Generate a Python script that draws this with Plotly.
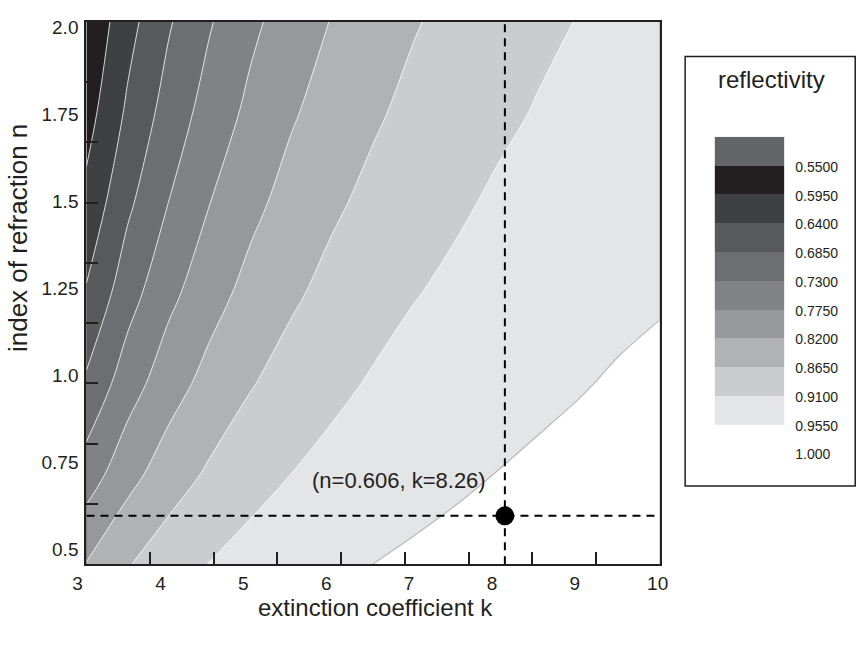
import plotly.graph_objects as go

W, H = 862, 645

# ---- data ----
k_grid = [3.0, 3.5, 4.0, 4.5, 5.0, 5.5, 6.0, 6.5, 7.0, 7.5, 8.0, 8.5, 9.0, 9.5, 10.0]
n_grid = [0.5, 0.75, 1.0, 1.25, 1.5, 1.75, 2.0]
reflectivity = [
    [0.822, 0.862, 0.890, 0.911, 0.927, 0.938, 0.948, 0.9551, 0.961, 0.966, 0.970, 0.973, 0.976, 0.978, 0.980],
    [0.751, 0.804, 0.843, 0.871, 0.893, 0.910, 0.923, 0.934, 0.942, 0.949, 0.9553, 0.960, 0.964, 0.968, 0.971],
    [0.692, 0.754, 0.800, 0.835, 0.862, 0.883, 0.900, 0.914, 0.925, 0.934, 0.941, 0.948, 0.953, 0.958, 0.962],
    [0.644, 0.711, 0.763, 0.802, 0.834, 0.858, 0.878, 0.894, 0.908, 0.918, 0.928, 0.935, 0.942, 0.948, 0.952],
    [0.607, 0.676, 0.730, 0.774, 0.808, 0.836, 0.858, 0.876, 0.891, 0.904, 0.915, 0.924, 0.931, 0.938, 0.944],
    [0.577, 0.647, 0.703, 0.748, 0.785, 0.815, 0.839, 0.859, 0.876, 0.890, 0.902, 0.912, 0.921, 0.928, 0.935],
    [0.556, 0.624, 0.680, 0.726, 0.765, 0.796, 0.822, 0.844, 0.862, 0.877, 0.890, 0.902, 0.911, 0.919, 0.927],
]
level_start, level_end, level_size = 0.55, 0.955, 0.045

band_colors = ["#636466", "#231f20", "#3f4042", "#58595b", "#6d6e71", "#808285",
               "#97989b", "#b1b2b4", "#cbcccd", "#e4e5e6", "#ffffff"]
legend_labels = ["0.5500", "0.5950", "0.6400", "0.6850", "0.7300", "0.7750",
                 "0.8200", "0.8650", "0.9100", "0.9550", "1.000"]
legend_blocks = list(range(10))

k_range = [3, 10]
n_range = [0.5, 2.0]
k_labels = [3, 4, 5, 6, 7, 8, 9, 10]
n_labels = [0.5, 0.75, 1.0, 1.25, 1.5, 1.75, 2.0]
n_label_text = ["0.5", "0.75", "1.0", "1.25", "1.5", "1.75", "2.0"]
k_tick_marks = [3.778, 4.556, 5.333, 6.111, 6.889, 7.667, 8.444, 9.222]
n_tick_marks = [0.667, 0.833, 1.0, 1.167, 1.333, 1.5, 1.667, 1.833]

point_k = [8.11]
point_n = [0.634]
point_label = "(n=0.606, k=8.26)"

FONT = "Liberation Sans, Arial, sans-serif"
TXT = "#231f20"

def px_x(p):
    return p / W

def px_y(p):
    return 1 - p / H

fig = go.Figure()

fig.add_trace(go.Contour(
    x=k_grid, y=n_grid, z=reflectivity,
    contours=dict(start=level_start, end=level_end, size=level_size, coloring="fill"),
    colorscale=[[i / 10, c] for i, c in enumerate(band_colors)],
    line=dict(color="white", width=0.8, smoothing=1.0),
    showscale=False, hoverinfo="skip",
))
fig.add_trace(go.Contour(
    x=k_grid, y=n_grid, z=reflectivity,
    contours=dict(start=level_end, end=level_end, size=level_size, coloring="none"),
    line=dict(color="#b8b8b8", width=1.2, smoothing=1.0),
    showscale=False, hoverinfo="skip",
))

# dashed guide lines and point
fig.add_trace(go.Scatter(x=k_range, y=[point_n[0]] * 2, mode="lines",
                         line=dict(color="black", width=2, dash="8px,6px"),
                         showlegend=False, hoverinfo="skip"))
fig.add_trace(go.Scatter(x=[point_k[0]] * 2, y=n_range, mode="lines",
                         line=dict(color="black", width=2, dash="8px,6px"),
                         showlegend=False, hoverinfo="skip"))
fig.add_trace(go.Scatter(x=point_k, y=point_n, mode="markers",
                         marker=dict(color="black", size=19),
                         showlegend=False, hoverinfo="skip"))

# label axes (dummy trace)
fig.add_trace(go.Scatter(x=[None], y=[None], xaxis="x3", yaxis="y3",
                         showlegend=False, hoverinfo="skip"))

# legend colour blocks
fig.add_trace(go.Heatmap(
    x=[0], y=legend_blocks, z=[[b] for b in legend_blocks],
    zmin=0, zmax=9,
    colorscale=[[j / 9, band_colors[j]] for j in range(10)],
    showscale=False, xaxis="x2", yaxis="y2", hoverinfo="skip",
))

frame_x = [px_x(83), px_x(667)]
frame_y = [px_y(573), px_y(12)]

fig.update_layout(
    width=W, height=H,
    margin=dict(l=0, r=0, t=0, b=0),
    paper_bgcolor="white", plot_bgcolor="rgba(0,0,0,0)",
    font=dict(family=FONT, color=TXT),
    showlegend=False,
    xaxis=dict(domain=frame_x, range=k_range, anchor="y",
               tickmode="array", tickvals=k_tick_marks, ticks="inside",
               ticklen=12, tickwidth=2, tickcolor=TXT,
               showticklabels=False, showline=True, linewidth=2,
               linecolor=TXT, mirror=True, showgrid=False, zeroline=False),
    yaxis=dict(domain=frame_y, range=n_range, anchor="x",
               tickmode="array", tickvals=n_tick_marks, ticks="inside",
               ticklen=12, tickwidth=2, tickcolor=TXT,
               showticklabels=False, showline=True, linewidth=2,
               linecolor=TXT, mirror=True, showgrid=False, zeroline=False),
    xaxis3=dict(domain=[px_x(74), px_x(665)], range=k_range, anchor="free",
                position=px_y(573), tickmode="array", tickvals=k_labels,
                ticktext=[str(v) for v in k_labels], ticks="",
                showline=False, showgrid=False, zeroline=False,
                tickfont=dict(size=19, family=FONT), ticklabelstandoff=6),
    yaxis3=dict(domain=[px_y(557), px_y(18)], range=n_range, anchor="free",
                position=px_x(83), tickmode="array", tickvals=n_labels,
                ticktext=n_label_text, ticks="",
                showline=False, showgrid=False, zeroline=False,
                tickfont=dict(size=19, family=FONT), ticklabelstandoff=8),
    xaxis2=dict(domain=[px_x(723), px_x(794)], range=[-0.5, 0.5], anchor="y2",
                visible=False),
    yaxis2=dict(domain=[px_y(461), px_y(131)], range=[10.6, -0.5], anchor="x2",
                side="right", tickmode="array",
                tickvals=[b + 0.55 for b in range(11)], ticktext=legend_labels,
                ticks="", showline=False, showgrid=False, zeroline=False,
                tickfont=dict(size=14, family=FONT), ticklabelstandoff=10),
    shapes=[dict(type="rect", xref="paper", yref="paper",
                 x0=px_x(693), x1=1.005, y0=px_y(492), y1=px_y(48),
                 line=dict(color=TXT, width=1.5), fillcolor="rgba(0,0,0,0)")],
    annotations=[
        dict(text="extinction coefficient k", xref="paper", yref="paper",
             x=px_x(378), y=px_y(618), showarrow=False,
             font=dict(size=24, family=FONT), xanchor="center", yanchor="middle"),
        dict(text="index of refraction n", xref="paper", yref="paper",
             x=px_x(14), y=px_y(236), showarrow=False, textangle=-90,
             font=dict(size=26, family=FONT), xanchor="center", yanchor="middle"),
        dict(text="reflectivity", xref="paper", yref="paper",
             x=px_x(781), y=px_y(72), showarrow=False,
             font=dict(size=24, family=FONT), xanchor="center", yanchor="middle"),
        dict(text=point_label, xref="x", yref="y", x=point_k[0], y=point_n[0],
             showarrow=False, xanchor="right", yanchor="middle",
             xshift=-17, yshift=35, font=dict(size=22, family=FONT)),
    ],
)

fig.write_html(
    "out.html",
    config={"displayModeBar": False},
    post_script="document.body.style.margin='0px';document.body.style.overflow='hidden';",
)
